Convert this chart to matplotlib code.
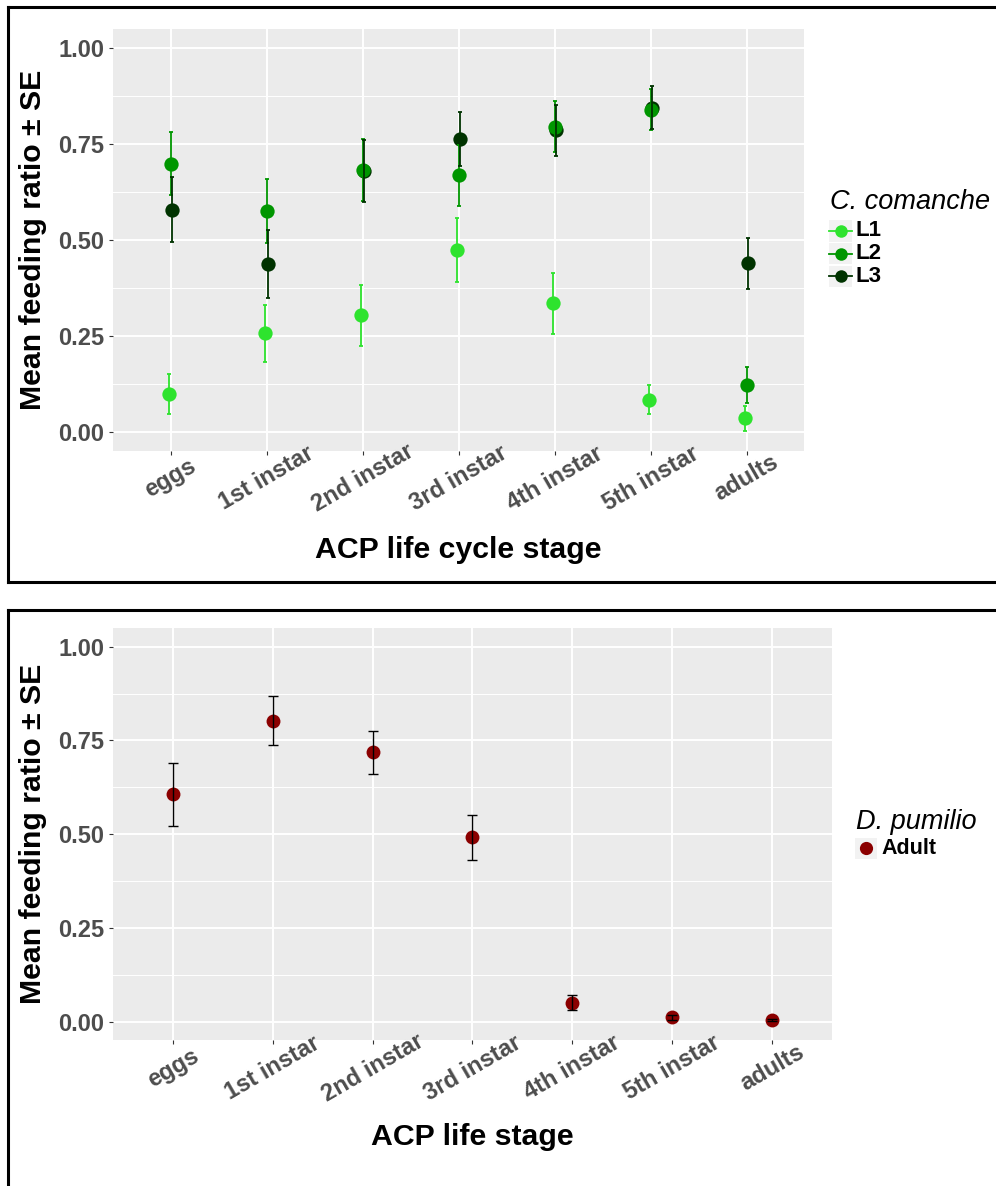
import matplotlib
matplotlib.use("Agg")
import matplotlib.pyplot as plt
from matplotlib.lines import Line2D
from matplotlib.patches import Rectangle
import numpy as np

# ---------------- data ----------------
stages = ['eggs', '1st instar', '2nd instar', '3rd instar', '4th instar', '5th instar', 'adults']

groups = ['L1', 'L2', 'L3']
L1_mean = [0.100, 0.257, 0.304, 0.473, 0.335, 0.084, 0.036]
L1_se = [0.052, 0.075, 0.080, 0.083, 0.080, 0.038, 0.033]
L2_mean = [0.698, 0.576, 0.682, 0.668, 0.795, 0.839, 0.123]
L2_se = [0.082, 0.084, 0.080, 0.079, 0.066, 0.053, 0.047]
L3_mean = [0.579, 0.438, 0.680, 0.763, 0.786, 0.845, 0.439]
L3_se = [0.084, 0.089, 0.080, 0.070, 0.066, 0.055, 0.067]

pum_group = ['Adult']
pum_mean = [0.606, 0.803, 0.718, 0.492, 0.051, 0.012, 0.005]
pum_se = [0.084, 0.065, 0.058, 0.060, 0.021, 0.007, 0.003]

yticks = [0.00, 0.25, 0.50, 0.75, 1.00]
ytick_labels = ['0.00', '0.25', '0.50', '0.75', '1.00']

# ---------------- style ----------------
colors = {'L1': '#2EE32E', 'L2': '#009600', 'L3': '#003300'}
dodge = {'L1': -0.017, 'L2': 0.0, 'L3': 0.017}
pum_color = '#8B0000'
FONT = 'Liberation Sans'
plt.rcParams['font.family'] = [FONT, 'DejaVu Sans']

W, H = 996, 1186
fig = plt.figure(figsize=(W / 100, H / 100), dpi=100)


def fx(px):
    return px / W


def fy(py):
    return 1 - py / H


def style_axes(ax, label_pad):
    ax.set_facecolor('#EBEBEB')
    for s in ax.spines.values():
        s.set_visible(False)
    ax.set_xlim(0.4, 7.6)
    ax.set_ylim(-0.05, 1.05)
    x = np.arange(1, len(stages) + 1)
    ax.set_xticks(x)
    ax.set_xticklabels(stages, rotation=30, ha='center', va='center',
                       rotation_mode='anchor', fontsize=17, fontweight='bold',
                       color='#4D4D4D')
    ax.set_yticks(yticks)
    ax.set_yticklabels(ytick_labels, fontsize=17, fontweight='bold', color='#4D4D4D')
    ax.set_yticks([0.125, 0.375, 0.625, 0.875], minor=True)
    ax.tick_params(axis='both', which='major', length=3, width=0.8, color='#333333')
    ax.tick_params(axis='x', which='major', pad=label_pad)
    ax.tick_params(axis='y', which='major', pad=3.5)
    ax.tick_params(axis='y', which='minor', length=0)
    ax.grid(which='major', color='white', linewidth=1.4)
    ax.grid(which='minor', axis='y', color='white', linewidth=0.7)
    ax.set_axisbelow(True)


# ---------------- top panel ----------------
ax1 = fig.add_axes([fx(113.1), fy(451.2), 691.2 / W, 422.4 / H])
style_axes(ax1, 16.5)
xpos = np.arange(1, len(stages) + 1)
means = {'L1': L1_mean, 'L2': L2_mean, 'L3': L3_mean}
ses = {'L1': L1_se, 'L2': L2_se, 'L3': L3_se}
pz = {'L3': 3, 'L2': 4, 'L1': 5}
for g in groups:
    ax1.plot(xpos + dodge[g], means[g], 'o', ms=10.3, color=colors[g],
             markeredgewidth=0, zorder=pz[g], clip_on=False)
for i, g in enumerate(groups):
    ax1.errorbar(xpos + dodge[g], means[g], yerr=ses[g], fmt='none',
                 ecolor=colors[g], elinewidth=1.3, capsize=1.3, capthick=1.3,
                 zorder=6 + i)

# ---------------- bottom panel ----------------
ax2 = fig.add_axes([fx(113.1), fy(1040.45), 718.6 / W, 412.5 / H])
style_axes(ax2, 16.8)
ax2.plot(xpos, pum_mean, 'o', ms=10, color=pum_color, markeredgewidth=0, zorder=3)
ax2.errorbar(xpos, pum_mean, yerr=pum_se, fmt='none', ecolor='black',
             elinewidth=1.0, capsize=3.6, capthick=1.0, zorder=4)

# ---------------- axis titles ----------------
fig.text(fx(33), fy(240), 'Mean feeding ratio \u00b1 SE', rotation=90, ha='center',
         va='center', fontsize=21.8, fontweight='bold')
fig.text(fx(33), fy(834), 'Mean feeding ratio \u00b1 SE', rotation=90, ha='center',
         va='center', fontsize=21.8, fontweight='bold')
fig.text(fx(458.7), fy(550), 'ACP life cycle stage', ha='center', va='center',
         fontsize=21.8, fontweight='bold')
fig.text(fx(472.4), fy(1137), 'ACP life stage', ha='center', va='center',
         fontsize=21.8, fontweight='bold')

# ---------------- legends ----------------
fig.text(fx(830), fy(201.7), 'C. comanche', ha='left', va='center', fontsize=19.5,
         style='italic')
row_y = [231, 253.5, 276]
for g, yy in zip(groups, row_y):
    fig.add_artist(Rectangle((fx(829), fy(yy + 10.5)), 23 / W, 21 / H,
                             transform=fig.transFigure, facecolor='#F2F2F2',
                             edgecolor='none'))
    fig.add_artist(Line2D([fx(829), fx(852)], [fy(yy), fy(yy)],
                          transform=fig.transFigure, color=colors[g], lw=1.3))
    fig.add_artist(Line2D([fx(840.5)], [fy(yy)], transform=fig.transFigure,
                          marker='o', ms=9, color=colors[g], markeredgewidth=0))
    fig.text(fx(855), fy(yy), g, ha='left', va='center', fontsize=16,
             fontweight='bold')

fig.text(fx(856), fy(821.7), 'D. pumilio', ha='left', va='center', fontsize=19.5,
         style='italic')
for g, yy in zip(pum_group, [848.3]):
    fig.add_artist(Rectangle((fx(855), fy(yy + 10.5)), 22 / W, 21 / H,
                             transform=fig.transFigure, facecolor='#F2F2F2',
                             edgecolor='none'))
    fig.add_artist(Line2D([fx(866)], [fy(yy)], transform=fig.transFigure,
                          marker='o', ms=9.5, color=pum_color, markeredgewidth=0))
    fig.text(fx(881.7), fy(yy), g, ha='left', va='center', fontsize=15.5,
             fontweight='bold')

# ---------------- panel frames ----------------
frame_kw = dict(transform=fig.transFigure, color='black', lw=2.2,
                solid_capstyle='projecting')
fig.add_artist(Line2D([fx(8), fx(1005)], [fy(7), fy(7)], **frame_kw))
fig.add_artist(Line2D([fx(8), fx(8)], [fy(7), fy(581.5)], **frame_kw))
fig.add_artist(Line2D([fx(8), fx(1005)], [fy(581.5), fy(581.5)], **frame_kw))
fig.add_artist(Line2D([fx(8), fx(1005)], [fy(610), fy(610)], **frame_kw))
fig.add_artist(Line2D([fx(8), fx(8)], [fy(610), fy(1195)], **frame_kw))

fig.savefig('out.png', dpi=100, facecolor='white')
